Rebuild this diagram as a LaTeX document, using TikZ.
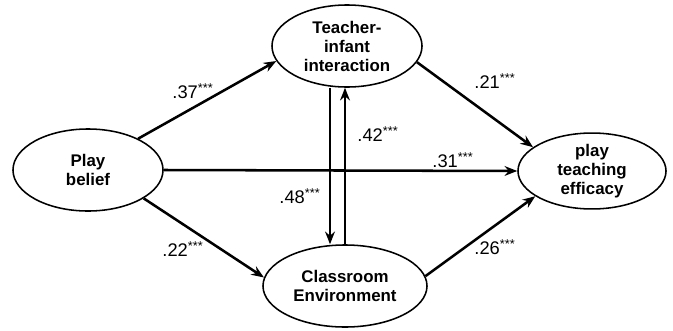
\documentclass[tikz,border=0pt]{standalone}
\usepackage{fontspec}
\setmainfont{Liberation Sans}
\usetikzlibrary{shapes.geometric,arrows.meta,positioning}

\tikzset{
    latent/.style={draw, ellipse, line width=1.1pt, inner sep=0pt, align=center,
        font=\fontsize{12}{13.5}\selectfont\bfseries},
    path/.style={line width=1.8pt, -{Stealth[length=9pt,width=7pt,inset=3pt]}},
    coef/.style={font=\fontsize{13}{14}\selectfont, inner sep=0pt}
}

\begin{document}
\begin{tikzpicture}[x=0.025cm, y=-0.025cm]
    \useasboundingbox (0,0) rectangle (673,330);

    % Variables
    \node[latent, minimum width=3.75cm, minimum height=2.05cm] (pb) at (88,170) {Play\\belief};
    \node[latent, minimum width=3.75cm, minimum height=2.05cm] (ti) at (347,46) {Teacher-\\infant\\interaction};
    \node[latent, minimum width=4.1cm, minimum height=2.05cm] (ce) at (345,286) {Classroom\\Environment};
    \node[latent, minimum width=3.7cm, minimum height=1.85cm] (pte) at (592,171) {play\\teaching\\efficacy};

    % Paths
    \draw[path] (pb.32) -- (ti.192);
    \draw[path] (ti.-13) -- (pte.158);
    \draw[path] (pb.east) -- (pte.west);
    \draw[path] (pb.-27) -- (ce.174);
    \draw[path] (ce.7) -- (pte.204);

    % Reciprocal paths
    \coordinate (dn) at (330,0);
    \coordinate (up) at (345,0);
    \draw[path] (ti.south -| dn) -- (ce.north -| dn);
    \draw[path] (ce.north -| up) -- (ti.south -| up);

    % Coefficients
    \node[coef] (c37) at (193,91) {.37\textsuperscript{***}};
    \node[coef] (c21) at (495,81) {.21\textsuperscript{***}};
    \node[coef] (c42) at (378,134) {.42\textsuperscript{***}};
    \node[coef] (c31) at (453,160) {.31\textsuperscript{***}};
    \node[coef] (c48) at (300,196) {.48\textsuperscript{***}};
    \node[coef] (c22) at (183,249) {.22\textsuperscript{***}};
    \node[coef] (c26) at (495,247) {.26\textsuperscript{***}};
\end{tikzpicture}
\end{document}
